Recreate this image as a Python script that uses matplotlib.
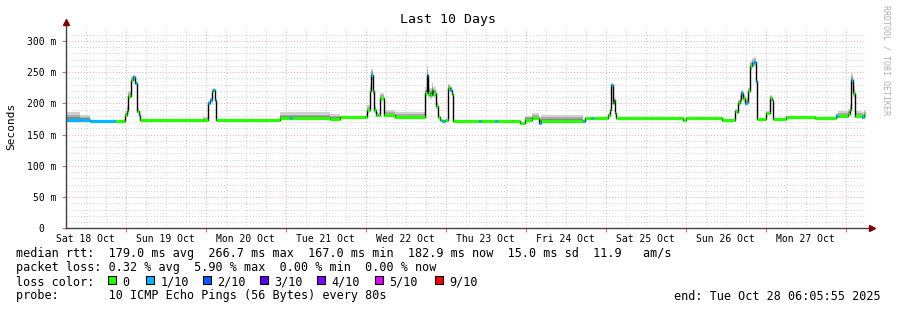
import matplotlib
matplotlib.use("Agg")
import matplotlib.pyplot as plt
from matplotlib.patches import Rectangle
import numpy as np

# hours since window start (Sat 18 Oct 06:05:55)
hours = [0.0, 4.2, 7.2, 14.7, 17.4, 17.7, 18.3, 18.6, 19.2, 19.5, 20.1, 20.7, 21.3, 21.9, 22.2,
         41.1, 42.6, 43.2, 43.8, 44.1, 44.7, 45.0, 64.2, 67.2, 67.8, 79.2, 82.2, 89.7, 90.3,
         91.2, 91.5, 92.1, 92.4, 93.0, 93.6, 94.2, 95.4, 98.7, 107.7, 108.3, 108.6, 109.2,
         109.8, 110.1, 111.0, 111.6, 112.2, 112.8, 113.7, 114.6, 115.2, 115.8, 116.1, 123.9,
         124.5, 128.7, 129.3, 136.2, 137.7, 139.8, 141.9, 142.5, 155.1, 155.7, 157.5, 158.1,
         162.6, 163.2, 163.5, 164.1, 164.4, 164.7, 165.0, 185.1, 186.0, 196.8, 200.7, 201.3,
         201.6, 202.2, 202.5, 203.1, 203.7, 204.3, 204.6, 205.2, 205.8, 206.4, 207.0, 207.3,
         210.0, 211.2, 211.8, 212.1, 216.0, 224.7, 231.0, 231.6, 234.6, 235.2, 235.5, 236.1,
         236.7, 238.8, 239.4]
median_ms = [174, 174, 171, 172, 172, 181, 187, 211, 211, 237, 242, 232, 187, 181, 173,
             173, 200, 205, 219, 221, 205, 173, 176, 176, 176, 175, 178, 178, 189,
             219, 245, 219, 189, 182, 181, 208, 181, 178, 216, 245, 216, 213,
             221, 216, 195, 178, 173, 172, 173, 225, 222, 215, 172, 172,
             172, 171, 172, 169, 174, 176, 168, 172, 172, 176, 176, 176,
             181, 189, 229, 200, 205, 184, 176, 174, 176, 173, 187, 186,
             200, 205, 216, 208, 200, 202, 219, 259, 264, 266, 235, 175,
             184, 208, 206, 175, 178, 176, 179, 179, 183, 189, 237, 216,
             179, 178, 181]
loss_idx = [1, 1, 1, 0, 0, 0, 0, 0, 0, 0, 1, 1, 0, 0, 0,
            0, 1, 1, 0, 1, 1, 0, 0, 1, 0, 0, 0, 0, 0,
            0, 1, 0, 0, 0, 0, 0, 0, 0, 0, 1, 0, 0,
            0, 0, 0, 0, 0, 1, 0, 0, 1, 0, 0, 1,
            0, 1, 0, 0, 0, 0, 1, 0, 1, 0, 1, 0,
            0, 0, 1, 0, 0, 0, 0, 0, 0, 0, 0, 0,
            0, 0, 1, 0, 1, 0, 0, 0, 1, 1, 1, 0,
            0, 0, 0, 0, 0, 0, 1, 0, 0, 0, 1, 0,
            0, 1, 0]
smoke_up = [12, 8, 2, 1, 3, 6, 8, 8, 8, 6, 4, 4, 6, 4, 1,
            5, 4, 4, 4, 4, 3, 1, 10, 10, 10, 8, 2, 3, 8,
            10, 10, 8, 6, 4, 4, 8, 8, 8, 10, 14, 12, 12,
            12, 10, 8, 4, 1, 1, 1, 6, 6, 4, 1, 1,
            1, 1, 1, 1, 6, 8, 8, 10, 2, 1, 1, 1,
            3, 4, 4, 4, 4, 3, 1, 1, 1, 1, 4, 4,
            6, 6, 6, 6, 6, 6, 6, 8, 8, 8, 4, 1,
            4, 6, 4, 1, 1, 1, 6, 8, 8, 10, 12, 10,
            8, 8, 8]
smoke_dn = [3, 3, 1, 1, 1, 2, 3, 4, 4, 4, 3, 3, 3, 2, 1,
            1, 3, 3, 3, 3, 3, 1, 3, 3, 3, 2, 1, 1, 4,
            6, 8, 6, 4, 2, 2, 4, 2, 2, 6, 8, 8, 6,
            6, 6, 4, 2, 1, 1, 1, 4, 4, 4, 1, 1,
            1, 1, 1, 1, 2, 3, 2, 3, 1, 1, 1, 1,
            1, 2, 4, 3, 3, 2, 1, 1, 1, 1, 2, 2,
            4, 4, 4, 4, 4, 4, 4, 6, 6, 6, 4, 1,
            2, 4, 3, 1, 1, 1, 2, 3, 3, 4, 6, 6,
            3, 3, 3]

loss_labels = ['0', '1/10', '2/10', '3/10', '4/10', '5/10', '9/10']
loss_colors = ['#26ff00', '#00b8ff', '#0059ff', '#5e00ff', '#7e00ff', '#dd00ff', '#ff0000']
day_labels = ['Sat 18 Oct', 'Sun 19 Oct', 'Mon 20 Oct', 'Tue 21 Oct', 'Wed 22 Oct',
              'Thu 23 Oct', 'Fri 24 Oct', 'Sat 25 Oct', 'Sun 26 Oct', 'Mon 27 Oct']
y_ticks = [0, 50, 100, 150, 200, 250, 300]
y_labels = ['0  ', '50 m', '100 m', '150 m', '200 m', '250 m', '300 m']

start_offset = 6 + 5 / 60 + 55 / 3600  # start time of day, hours
span = 240.0

W, H = 897, 310
mono = 'DejaVu Sans Mono'
fig = plt.figure(figsize=(W / 100, H / 100), dpi=100)
fig.patch.set_facecolor('white')
ax = fig.add_axes([66 / W, (H - 228.3) / H, 800 / W, 200 / H])
ax.set_xlim(0, span)
ax.set_ylim(0, 320)
for s in ax.spines.values():
    s.set_visible(False)

# grid
grid_c = '#d0d0d0'
mgrid_c = '#f2a8a8'
dots = (0, (1, 2))
for v in range(10, 320, 10):
    if v % 50:
        ax.axhline(v, color=grid_c, lw=0.7, ls=dots, zorder=0)
    else:
        ax.axhline(v, color=mgrid_c, lw=0.7, ls=dots, zorder=0)
midnights = [24 * k - start_offset for k in range(1, 11)]
for q in range(0, 44):
    t = 6 * q - start_offset
    if t <= 0 or t >= span:
        continue
    if q % 4 == 0:
        ax.axvline(t, color=mgrid_c, lw=0.7, ls=dots, zorder=0)
    else:
        ax.axvline(t, color=grid_c, lw=0.7, ls=dots, zorder=0)

# ticks
ax.set_yticks(y_ticks)
ax.set_yticklabels(y_labels, fontfamily=mono, fontsize=7)
ax.tick_params(axis='y', length=3, width=0.8, color='#f06060', pad=4)
ax.set_xticks([m for m in midnights if m < span])
ax.set_xticklabels([])
ax.tick_params(axis='x', which='major', length=3, width=0.8, color='#f06060')
noons = [24 * k - start_offset + 12 for k in range(10)]
ax.set_xticks(noons, minor=True)
ax.set_xticklabels(day_labels, minor=True, fontfamily=mono, fontsize=7)
ax.tick_params(axis='x', which='minor', length=0, pad=4)

# smoke
x = np.array(hours + [span])
med = np.array(median_ms + [median_ms[-1]], dtype=float)
up = np.array(smoke_up + [smoke_up[-1]], dtype=float)
dn = np.array(smoke_dn + [smoke_dn[-1]], dtype=float)
for f, c in [(1.0, '#d0d0d0'), (0.6, '#aaaaaa'), (0.3, '#858585')]:
    ax.fill_between(x, med - dn * f, med + up * f, step='post', color=c, lw=0, zorder=2)

# median line
ax.plot(x, med, drawstyle='steps-post', color='black', lw=1.0, zorder=3)
x0 = np.array(hours)
x1 = np.array(hours[1:] + [span])
li = np.array(loss_idx)
for k, c in enumerate(loss_colors):
    m = li == k
    if m.any():
        ax.hlines(np.array(median_ms)[m], x0[m], x1[m], color=c, lw=2.3, zorder=4)

# axes with arrows
axis_c = '#404040'
arrow_c = '#800000'
ax.plot([0, 0], [0, 1.02], transform=ax.transAxes, color=axis_c, lw=1, clip_on=False, zorder=5)
ax.plot([0, 1.007], [0, 0], transform=ax.transAxes, color=axis_c, lw=1, clip_on=False, zorder=5)
ax.plot([0], [1.03], marker='^', ms=4, color=arrow_c, transform=ax.transAxes, clip_on=False, zorder=6)
ax.plot([1.007], [0], marker='>', ms=4, color=arrow_c, transform=ax.transAxes, clip_on=False, zorder=6)

def fx(px):
    return px / W

def fy(py):
    return 1 - py / H

fig.text(fx(448), fy(19), 'Last 10 Days', ha='center', va='center', fontfamily=mono, fontsize=9.5)
fig.text(fx(11), fy(126), 'Seconds', ha='center', va='center', rotation=90, fontfamily=mono, fontsize=8)
fig.text(fx(886), fy(5), 'RRDTOOL / TOBI OETIKER', ha='center', va='top', rotation=270,
         fontfamily=mono, fontsize=6, color='#b0b0b0')

fs = 8.5
fig.text(fx(16), fy(254), 'median rtt:  179.0 ms avg  266.7 ms max  167.0 ms min  182.9 ms now  15.0 ms sd  11.9   am/s',
         ha='left', va='center', fontfamily=mono, fontsize=fs)
fig.text(fx(16), fy(268), 'packet loss: 0.32 % avg  5.90 % max  0.00 % min  0.00 % now',
         ha='left', va='center', fontfamily=mono, fontsize=fs)
fig.text(fx(16), fy(282), 'loss color:', ha='left', va='center', fontfamily=mono, fontsize=fs)
box_x = [108, 146, 203, 260, 317, 375, 435]
for bx, lab, c in zip(box_x, loss_labels, loss_colors):
    fig.add_artist(Rectangle((fx(bx), fy(284)), 8 / W, 8 / H, facecolor=c, edgecolor='black',
                             lw=0.8, transform=fig.transFigure))
    fig.text(fx(bx + 14.5), fy(282), lab, ha='left', va='center', fontfamily=mono, fontsize=fs)
fig.text(fx(16), fy(296), 'probe:       10 ICMP Echo Pings (56 Bytes) every 80s',
         ha='left', va='center', fontfamily=mono, fontsize=fs)
fig.text(fx(881), fy(296), 'end: Tue Oct 28 06:05:55 2025', ha='right', va='center',
         fontfamily=mono, fontsize=fs)

fig.savefig('out.png', dpi=100)
